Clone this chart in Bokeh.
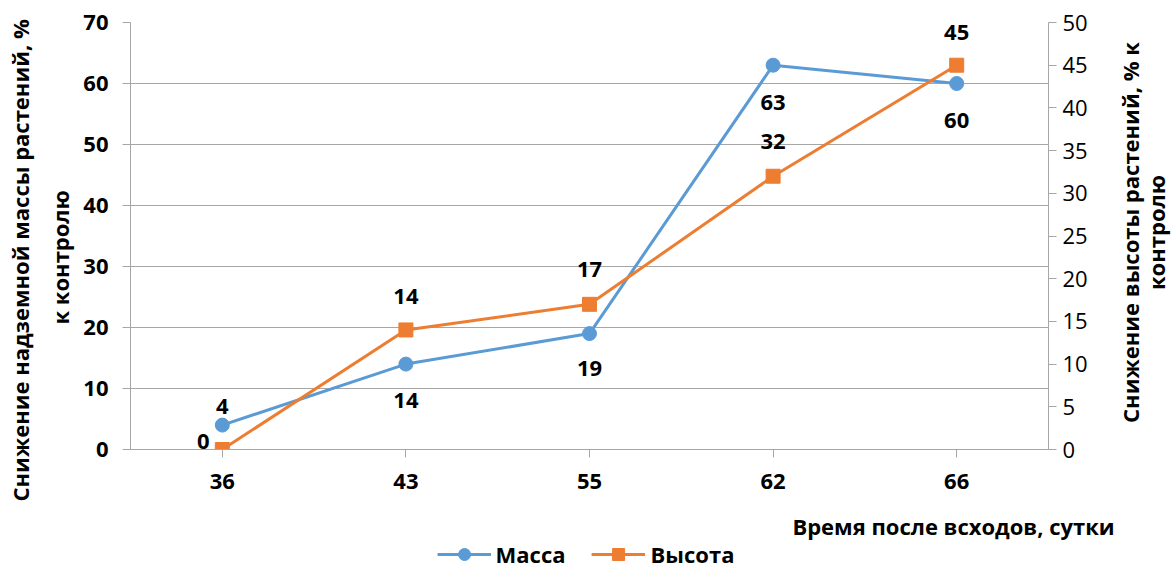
import math
from bokeh.plotting import figure
from bokeh.layouts import column, row
from bokeh.models import (FactorRange, Range1d, LinearAxis, ColumnDataSource, LabelSet, Label, Title,
                          Legend, LegendItem, FixedTicker)
from bokeh.core.properties import value
from bokeh.embed import file_html
from bokeh.resources import INLINE

# ---- data ----
days = ["36", "43", "55", "62", "66"]
mass = [4, 14, 19, 63, 60]          # снижение массы, % (левая ось)
height = [0, 14, 17, 32, 45]        # снижение высоты, % (правая ось)
left_ticks = [0, 10, 20, 30, 40, 50, 60, 70]
right_ticks = [0, 5, 10, 15, 20, 25, 30, 35, 40, 45, 50]
series_names = ["Масса", "Высота"]
left_title = ["Снижение надземной массы растений, %", "к контролю"]
right_title = ["Снижение высоты растений, % к", "контролю"]
x_title = "Время после всходов, сутки"

# ---- label placement styles (screen px) ----
mass_dx = [0, 0, 0, 0, 0]
mass_dy = [19, -36, -35, -37, -37]
height_dx = [-19, 0, 0, 0, 0]
height_dy = [8, 33, 35, 35, 33]

BLUE = "#5b9bd5"
ORANGE = "#ed7d31"
GRID = "#a6a6a6"
FONT = "Open Sans"
FS = "22px"

W, H = 1171, 569
RW = 56                  # right strip (secondary axis title)
MAIN_H = 505             # main chart height
BOT_H = H - MAIN_H       # bottom strip (x title + legend)
MAIN_W = W - RW
FR_TOP, FR_BOT, FR_L, FR_R = 22, 449, 129, 1048

src = ColumnDataSource(dict(
    day=days, mass=mass, height=height,
    mass_txt=[str(v) for v in mass], height_txt=[str(v) for v in height],
    mdx=mass_dx, mdy=mass_dy, hdx=height_dx, hdy=height_dy))

p = figure(width=MAIN_W, height=MAIN_H, x_range=FactorRange(*days), y_range=Range1d(0, 70),
           output_backend="svg", toolbar_location=None,
           min_border_left=FR_L, min_border_right=MAIN_W - FR_R, min_border_top=FR_TOP,
           min_border_bottom=MAIN_H - FR_BOT)
p.extra_y_ranges = {"right": Range1d(0, 50)}
p.outline_line_color = None
p.background_fill_color = "white"
p.border_fill_color = "white"

for ax in (p.xaxis[0], p.yaxis[0]):
    ax.axis_line_color = GRID
    ax.major_tick_line_color = GRID
    ax.major_tick_out = 8
    ax.major_tick_in = 0
    ax.minor_tick_line_color = None
    ax.major_label_text_font = FONT
    ax.major_label_text_font_style = "bold"
    ax.major_label_text_font_size = FS
    ax.major_label_text_color = "black"
p.yaxis[0].ticker = FixedTicker(ticks=left_ticks)
p.yaxis[0].major_label_standoff = 14
p.xaxis[0].major_label_standoff = 16

rax = LinearAxis(y_range_name="right", ticker=FixedTicker(ticks=right_ticks))
rax.axis_line_color = GRID
rax.major_tick_line_color = GRID
rax.major_tick_out = 8
rax.major_tick_in = 0
rax.minor_tick_line_color = None
rax.major_label_text_font = FONT
rax.major_label_text_font_style = "normal"
rax.major_label_text_font_size = FS
rax.major_label_text_color = "black"
rax.major_label_standoff = 6
p.add_layout(rax, "right")

p.xgrid.grid_line_color = None
p.ygrid.grid_line_color = GRID
p.ygrid.grid_line_width = 1

p.line(x="day", y="mass", source=src, line_color=BLUE, line_width=3)
p.scatter(x="day", y="mass", source=src, marker="circle", size=14, fill_color=BLUE, line_color=BLUE)
p.line(x="day", y="height", source=src, line_color=ORANGE, line_width=3, y_range_name="right")
p.scatter(x="day", y="height", source=src, marker="square", size=14,
          fill_color=ORANGE, line_color=ORANGE, y_range_name="right")

p.add_layout(LabelSet(x="day", y="mass", text="mass_txt", source=src, x_offset="mdx", y_offset="mdy",
                      text_align="center", text_baseline="middle", text_font=value(FONT),
                      text_font_style="bold", text_font_size=FS, text_color="black"))
p.add_layout(LabelSet(x="day", y="height", text="height_txt", source=src, x_offset="hdx", y_offset="hdy",
                      y_range_name="right",
                      text_align="center", text_baseline="middle", text_font=value(FONT),
                      text_font_style="bold", text_font_size=FS, text_color="black"))


def mk_title(txt, offset, standoff):
    return Title(text=txt, align="left", offset=offset, standoff=standoff,
                 text_font=FONT, text_font_style="bold", text_font_size=FS, text_color="black")


# left axis title: two lines, the first added sits nearest to the frame
p.add_layout(mk_title(left_title[1], 125, 12), "left")
p.add_layout(mk_title(left_title[0], -52, 4), "left")


def strip(w, h, xr=None, yr=None):
    f = figure(width=w, height=h,
               x_range=xr if xr is not None else Range1d(0, 1),
               y_range=yr if yr is not None else Range1d(0, 1),
               output_backend="svg", toolbar_location=None,
               x_axis_location=None, y_axis_location=None, min_border=0)
    f.outline_line_color = None
    f.grid.grid_line_color = None
    f.background_fill_color = "white"
    f.border_fill_color = "white"
    return f


def put(f, bottom, txt, cx, cy, angle=0.0):
    # cx: px from strip left, cy: canvas px from top; bottom: canvas y of the strip's frame bottom
    f.add_layout(Label(x=cx, y=bottom - cy, x_units="screen", y_units="screen", text=txt, angle=angle,
                       text_align="center", text_baseline="middle", text_font=FONT,
                       text_font_style="bold", text_font_size=FS, text_color="black"))


# right strip: secondary axis title (its frame is aligned with the chart frame)
rf = strip(RW, MAIN_H)
put(rf, FR_BOT, right_title[0], 1129 - MAIN_W, 232, math.pi / 2)
put(rf, FR_BOT, right_title[1], 1155 - MAIN_W, 232, math.pi / 2)

# bottom strip: x title + legend (proxy series kept out of view)
bf = strip(W, BOT_H, FactorRange(*days), Range1d(-1001, -1000))
put(bf, H, x_title, 953, 525)
r1 = bf.line(x=days, y=mass, line_color=BLUE, line_width=3)
m1 = bf.scatter(x=days, y=mass, marker="circle", size=14, fill_color=BLUE, line_color=BLUE)
r2 = bf.line(x=days, y=height, line_color=ORANGE, line_width=3)
m2 = bf.scatter(x=days, y=height, marker="square", size=14, fill_color=ORANGE, line_color=ORANGE)
legend = Legend(items=[LegendItem(label=series_names[0], renderers=[r1, m1]),
                       LegendItem(label=series_names[1], renderers=[r2, m2])],
                location="bottom_center", orientation="horizontal",
                border_line_color=None, background_fill_alpha=0,
                padding=0, margin=0, spacing=26, label_standoff=5,
                glyph_width=54, glyph_height=30, label_height=30,
                label_text_font=FONT, label_text_font_style="bold",
                label_text_font_size=FS, label_text_color="black")
bf.add_layout(legend, "center")

layout = column(row(p, rf, spacing=0), bf, spacing=0)
open("out.html", "w").write(file_html(layout, INLINE))
